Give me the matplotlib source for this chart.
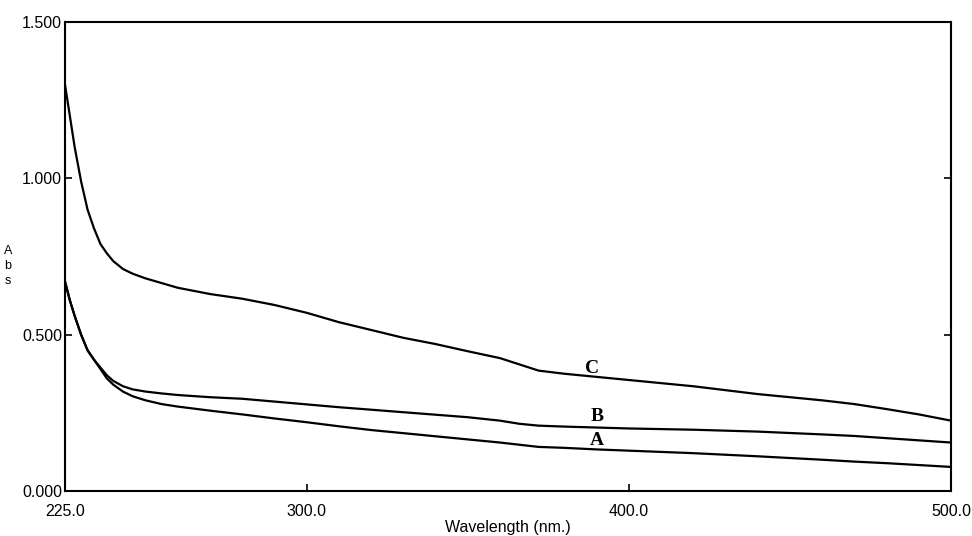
import matplotlib
matplotlib.use("Agg")
import matplotlib.pyplot as plt

# wavelength (nm) and absorbance
WL = [225, 226.5, 228, 230, 232, 234, 236, 238, 240, 243, 246, 250, 255, 260, 270,
      280, 290, 300, 310, 320, 330, 340, 350, 360, 366, 372, 380, 390, 400, 410,
      420, 440, 460, 470, 480, 490, 500]
ABS_C = [1.30, 1.20, 1.10, 0.99, 0.90, 0.84, 0.79, 0.76, 0.735, 0.71, 0.695, 0.68,
         0.665, 0.65, 0.63, 0.615, 0.595, 0.57, 0.54, 0.515, 0.49, 0.47, 0.447,
         0.425, 0.405, 0.385, 0.375, 0.365, 0.355, 0.345, 0.335, 0.31, 0.29, 0.278,
         0.262, 0.245, 0.225]
ABS_B = [0.67, 0.61, 0.56, 0.50, 0.45, 0.42, 0.395, 0.37, 0.352, 0.335, 0.325, 0.318,
         0.312, 0.307, 0.30, 0.295, 0.286, 0.277, 0.268, 0.26, 0.252, 0.244, 0.236,
         0.225, 0.215, 0.209, 0.206, 0.203, 0.200, 0.198, 0.196, 0.19, 0.181, 0.176,
         0.169, 0.162, 0.155]
ABS_A = [0.67, 0.61, 0.56, 0.50, 0.45, 0.42, 0.39, 0.36, 0.34, 0.318, 0.303, 0.29,
         0.278, 0.27, 0.257, 0.245, 0.232, 0.22, 0.207, 0.195, 0.185, 0.175, 0.165,
         0.155, 0.148, 0.141, 0.138, 0.133, 0.129, 0.125, 0.121, 0.111, 0.1, 0.094,
         0.089, 0.083, 0.077]

X_TICKS = [225, 300, 400, 500]
X_LABELS = ["225.0", "300.0", "400.0", "500.0"]
Y_TICKS = [0.0, 0.5, 1.0, 1.5]
Y_LABELS = ["0.000", "0.500", "1.000", "1.500"]

CURVE_LABELS = ["C", "B", "A"]
LABEL_X = [388.6, 390.1, 390.1]
LABEL_Y = [0.393, 0.237, 0.163]

fig = plt.figure(figsize=(9.72, 5.36), dpi=100)
ax = fig.add_axes([65 / 972, 45 / 536, 886 / 972, 469 / 536])

for ys in (ABS_C, ABS_B, ABS_A):
    ax.plot(WL, ys, color="black", linewidth=1.6)

ax.set_xlim(225, 500)
ax.set_ylim(0, 1.5)
ax.set_xticks(X_TICKS)
ax.set_xticklabels(X_LABELS)
ax.set_yticks(Y_TICKS)
ax.set_yticklabels(Y_LABELS)
ax.tick_params(axis="y", direction="in", length=5, width=1.2, right=True,
               labelsize=11.5, pad=2)
ax.tick_params(axis="x", direction="in", length=5, width=1.2,
               labelsize=11.5, pad=9)
for lbl in ax.get_xticklabels() + ax.get_yticklabels():
    lbl.set_fontfamily("Liberation Sans")
for s in ax.spines.values():
    s.set_linewidth(1.5)

ax.set_xlabel("Wavelength (nm.)", fontsize=11.5, fontfamily="Liberation Sans",
              labelpad=1)
fig.text(8 / 972, 1 - 266 / 536, "A\nb\ns", fontsize=9,
         fontfamily="Liberation Sans", ha="center", va="center", linespacing=1.35)

for lab, x, y in zip(CURVE_LABELS, LABEL_X, LABEL_Y):
    ax.text(x, y, lab, fontsize=14, fontweight="bold",
            fontfamily="Liberation Serif", ha="center", va="center")

fig.savefig("out.png", dpi=100)
